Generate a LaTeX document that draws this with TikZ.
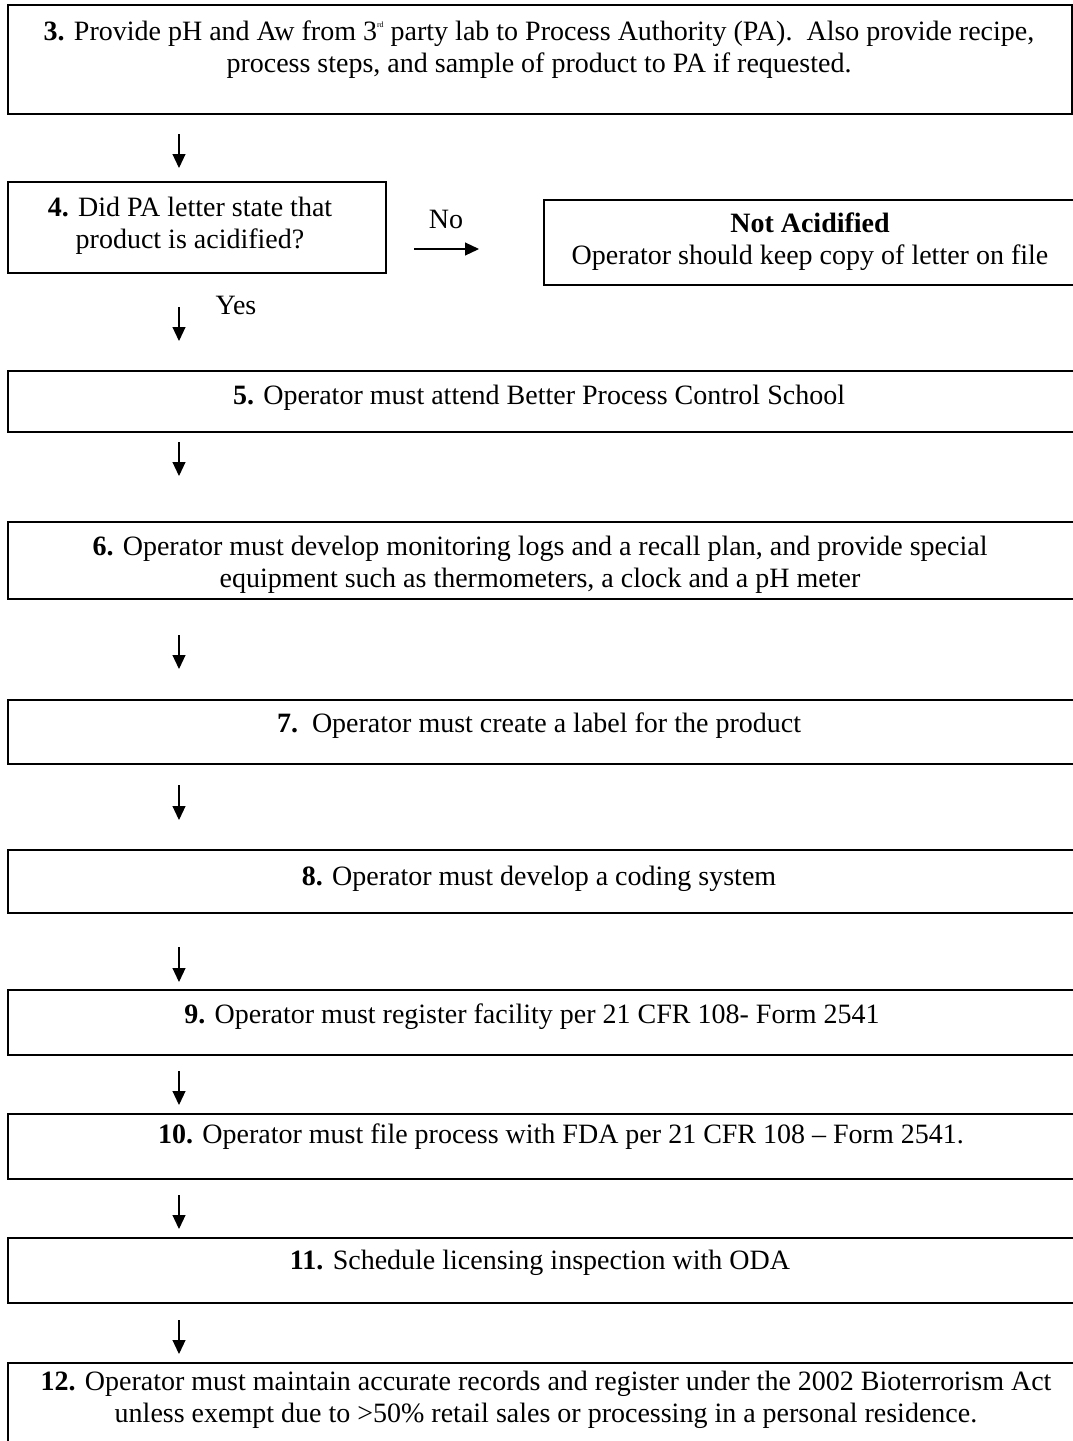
\documentclass[tikz,border=0pt]{standalone}
\usepackage{fontspec}
\setmainfont{Liberation Serif}
\usetikzlibrary{arrows.meta}
\begin{document}
\begin{tikzpicture}[x=1pt,y=-1pt,
  box/.style={draw=black, line width=1.5pt, rectangle, inner sep=0pt, anchor=north west},
  txt/.style={inner sep=0pt, align=center, font=\fontsize{28}{32.2}\selectfont},
  arr/.style={line width=1.1pt, -{Triangle[width=13pt,length=14pt]}}]
\useasboundingbox (0,0) rectangle (1073,1441);
\clip (0,0) rectangle (1073,1441);
% boxes
\node[box, minimum width=1064pt, minimum height=109pt] (b3) at (7,4) {};
\node[box, minimum width=378pt, minimum height=91pt] (b4) at (7,181) {};
\node[box, minimum width=545pt, minimum height=85pt] (bna) at (543,199) {};
\node[box, minimum width=1080pt, minimum height=61pt] (b5) at (7,370) {};
\node[box, minimum width=1080pt, minimum height=77pt] (b6) at (7,521) {};
\node[box, minimum width=1080pt, minimum height=64pt] (b7) at (7,699) {};
\node[box, minimum width=1080pt, minimum height=63pt] (b8) at (7,849) {};
\node[box, minimum width=1080pt, minimum height=65pt] (b9) at (7,989) {};
\node[box, minimum width=1080pt, minimum height=65pt] (b10) at (7,1113) {};
\node[box, minimum width=1080pt, minimum height=65pt] (b11) at (7,1237) {};
\node[box, minimum width=1080pt, minimum height=100pt] (b12) at (7,1362) {};
% texts
\node[txt] (t3) at (539,50) {\textbf{3.} Provide pH and Aw from 3\raisebox{13pt}{\fontsize{8}{8}\selectfont rd} party lab to Process Authority (PA).\ \ Also provide recipe,\\process steps, and sample of product to PA if requested.};
\node[txt] (t4) at (190,226) {\textbf{4.} Did PA letter state that\\product is acidified?};
\node[txt] (tna) at (810,242) {\textbf{Not Acidified}\\Operator should keep copy of letter on file};
\node[txt] (tno) at (446,219) {No};
\node[txt] (tyes) at (236,305) {Yes};
\node[txt] (t5) at (539,398) {\textbf{5.} Operator must attend Better Process Control School};
\node[txt] (t6) at (540,565) {\textbf{6.} Operator must develop monitoring logs and a recall plan, and provide special\\equipment such as thermometers, a clock and a pH meter};
\node[txt] (t7) at (539,726) {\textbf{7.}\ \ Operator must create a label for the product};
\node[txt] (t8) at (539,879) {\textbf{8.} Operator must develop a coding system};
\node[txt] (t9) at (532,1017) {\textbf{9.} Operator must register facility per 21 CFR 108- Form 2541};
\node[txt] (t10) at (561,1137) {\textbf{10.} Operator must file process with FDA per 21 CFR 108 -- Form 2541.};
\node[txt] (t11) at (540,1263) {\textbf{11.} Schedule licensing inspection with ODA};
\node[txt] (t12) at (546,1400) {\textbf{12.} Operator must maintain accurate records and register under the 2002 Bioterrorism Act\\unless exempt due to >50\% retail sales or processing in a personal residence.};
% arrow coordinates
\coordinate (a1s) at (179,134); \coordinate (a1e) at (179,168);
\coordinate (ans) at (414,249); \coordinate (ane) at (479,249);
\coordinate (a2s) at (179,307); \coordinate (a2e) at (179,341);
\coordinate (a3s) at (179,442); \coordinate (a3e) at (179,476);
\coordinate (a4s) at (179,635); \coordinate (a4e) at (179,669);
\coordinate (a5s) at (179,785); \coordinate (a5e) at (179,820);
\coordinate (a6s) at (179,947); \coordinate (a6e) at (179,982);
\coordinate (a7s) at (179,1071); \coordinate (a7e) at (179,1105);
\coordinate (a8s) at (179,1195); \coordinate (a8e) at (179,1229);
\coordinate (a9s) at (179,1320); \coordinate (a9e) at (179,1354);
\draw[arr] (a1s) -- (a1e);
\draw[arr] (ans) -- (ane);
\draw[arr] (a2s) -- (a2e);
\draw[arr] (a3s) -- (a3e);
\draw[arr] (a4s) -- (a4e);
\draw[arr] (a5s) -- (a5e);
\draw[arr] (a6s) -- (a6e);
\draw[arr] (a7s) -- (a7e);
\draw[arr] (a8s) -- (a8e);
\draw[arr] (a9s) -- (a9e);
\end{tikzpicture}
\end{document}
